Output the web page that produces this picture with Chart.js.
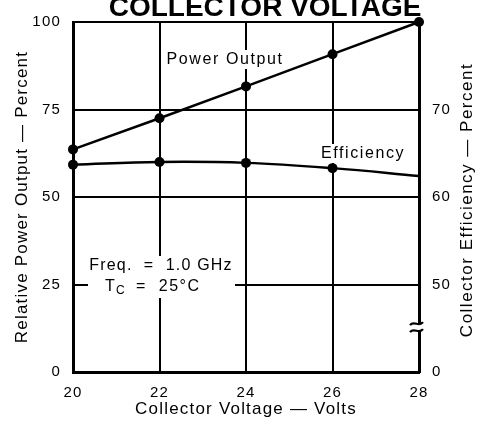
<!DOCTYPE html>
<html><head><meta charset="utf-8">
<script src="https://cdn.jsdelivr.net/npm/chart.js@4.4.1/dist/chart.umd.min.js"></script>
<style>html,body{margin:0;padding:0;background:#fff}#wrap{width:478px;height:430px;position:relative}</style>
</head><body><div id="wrap"><canvas id="c"></canvas></div>
<script>
// ---- data ----
const voltages = [20, 22, 24, 26, 28];
const powerOutput = [63.6, 72.5, 81.6, 90.8, 100];      // Relative Power Output (%) — left axis
const efficiency = [63.7, 64.0, 63.9, 63.3, 62.4];      // Collector Efficiency (%) — right axis
const effMarkerRadius = [5, 5, 5, 5, 0];
const xTicks = [20, 22, 24, 26, 28];
const leftTicks = [0, 25, 50, 75, 100];
const rightTicks = [40, 50, 60, 70, 80];               // 40 is shown as "0" (broken axis)
const rightTickLabels = ['0', '50', '60', '70', ''];

const FONT = '"Liberation Sans", Arial, Helvetica, sans-serif';
const SPACING = '1.2px';

function txt(ctx, s, x, y, size, opts = {}) {
  ctx.save();
  ctx.font = (opts.bold ? 'bold ' : '') + size + 'px ' + FONT;
  ctx.letterSpacing = opts.spacing || '0px';
  ctx.fillStyle = '#000';
  ctx.textAlign = opts.align || 'center';
  ctx.textBaseline = opts.baseline || 'middle';
  if (opts.rotate) { ctx.translate(x, y); ctx.rotate(opts.rotate); ctx.fillText(s, 0, 0); }
  else ctx.fillText(s, x, y);
  ctx.restore();
}
function whiteBox(ctx, x, y, w, h) { ctx.save(); ctx.fillStyle = '#fff'; ctx.fillRect(x, y, w, h); ctx.restore(); }

const decor = {
  id: 'decor',
  beforeUpdate(chart) { chart.ctx.letterSpacing = SPACING; },
  beforeLayout(chart) { chart.ctx.letterSpacing = SPACING; },
  beforeDraw(chart) { chart.ctx.letterSpacing = SPACING; },
  afterDatasetsDraw(chart) {
    const ctx = chart.ctx;
    const ys = chart.scales.y;
    // curve labels with white backing
    whiteBox(ctx, 164, 50, 122, 19);
    txt(ctx, 'Power Output', 225, 59.5, 16, { spacing: '1.6px' });
    whiteBox(ctx, 319, 144, 88, 19);
    txt(ctx, 'Efficiency', 363, 153.5, 16, { spacing: '1.6px' });
    // conditions box
    whiteBox(ctx, 88, 256, 147, 42);
    txt(ctx, 'Freq.  =  1.0 GHz', 161, 266, 16, { spacing: '1.2px' });
    txt(ctx, 'T', 105, 287, 16, { align: 'left' });
    txt(ctx, 'C', 116, 291, 12, { align: 'left' });
    txt(ctx, '=  25°C', 136, 287, 16, { align: 'left', spacing: '1.5px' });
    // axis break on right axis
    const xb = chart.chartArea.right;
    const yb = ys.getPixelForValue(12.8);
    whiteBox(ctx, xb - 4, yb - 3, 8, 6);
    ctx.save();
    ctx.strokeStyle = '#000'; ctx.lineWidth = 2.2;
    for (const dy of [-3.5, 3.5]) {
      ctx.beginPath();
      ctx.moveTo(xb - 9, yb + dy + 1.5);
      ctx.bezierCurveTo(xb - 5, yb + dy - 4, xb + 0, yb + dy + 4, xb + 4, yb + dy - 1.5);
      ctx.stroke();
    }
    ctx.restore();
  },
  afterDraw(chart) {
    const ctx = chart.ctx;
    // title (cut off at top in the reference)
    txt(ctx, 'COLLECTOR VOLTAGE', 265, 16, 28, { bold: true, baseline: 'alphabetic' });
    // right axis title reading bottom-to-top
    txt(ctx, 'Collector Efficiency — Percent', 467, 200, 17, { rotate: -Math.PI / 2, spacing: '1.5px' });
  }
};

new Chart(document.getElementById('c'), {
  type: 'line',
  data: {
    datasets: [
      {
        label: 'Power Output',
        data: voltages.map((v, i) => ({ x: v, y: powerOutput[i] })),
        yAxisID: 'y',
        borderColor: '#000', backgroundColor: '#000',
        borderWidth: 2.5, pointRadius: 5, pointBorderWidth: 0,
        tension: 0, clip: false
      },
      {
        label: 'Efficiency',
        data: voltages.map((v, i) => ({ x: v, y: efficiency[i] })),
        yAxisID: 'y2',
        borderColor: '#000', backgroundColor: '#000',
        borderWidth: 2.5, pointRadius: effMarkerRadius, pointBorderWidth: 0,
        tension: 0.4, clip: false
      }
    ]
  },
  options: {
    responsive: true, maintainAspectRatio: false, animation: false,
    layout: { padding: { top: 18, left: 0, right: 0, bottom: 0 } },
    plugins: { legend: { display: false }, tooltip: { enabled: false } },
    scales: {
      x: {
        type: 'linear', min: 20, max: 28,
        afterBuildTicks: s => { s.ticks = xTicks.map(v => ({ value: v })); },
        afterFit: s => { s.height = 58; },
        ticks: { color: '#000', font: { family: FONT, size: 15 }, padding: 12 },
        grid: { color: '#000', lineWidth: 2, drawTicks: false },
        border: { color: '#000', width: 3 },
        title: { display: true, text: 'Collector Voltage — Volts', color: '#000',
                 font: { family: FONT, size: 17 }, padding: { top: 0, bottom: 10 } }
      },
      y: {
        position: 'left', min: 0, max: 100,
        afterBuildTicks: s => { s.ticks = leftTicks.map(v => ({ value: v })); },
        afterFit: s => { s.width = 73; },
        ticks: { color: '#000', font: { family: FONT, size: 15 }, padding: 12 },
        grid: { color: '#000', lineWidth: 2, drawTicks: false },
        border: { color: '#000', width: 3 },
        title: { display: true, text: 'Relative Power Output — Percent', color: '#000',
                 font: { family: FONT, size: 17 }, padding: { top: 12, bottom: 0 } }
      },
      y2: {
        position: 'right', min: 40, max: 80,
        afterBuildTicks: s => { s.ticks = rightTicks.map(v => ({ value: v })); },
        afterFit: s => { s.width = 59; },
        ticks: { color: '#000', font: { family: FONT, size: 15 }, padding: 13,
                 callback: (v) => rightTickLabels[rightTicks.indexOf(v)] },
        grid: { drawOnChartArea: false, drawTicks: false },
        border: { color: '#000', width: 3 }
      }
    }
  },
  plugins: [decor]
});
</script>
</body></html>
